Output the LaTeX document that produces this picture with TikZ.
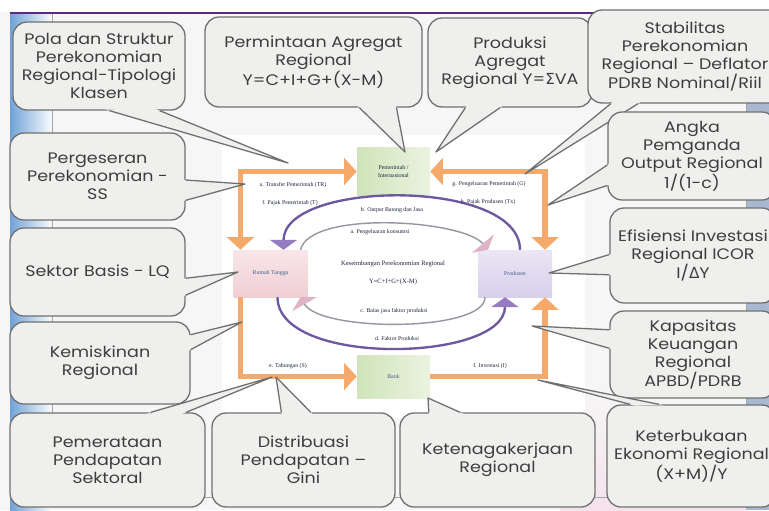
\documentclass[tikz,border=0pt]{standalone}
\usepackage{fontspec}
\newfontfamily\callfont[FakeStretch=1.15]{Poppins}
\newfontfamily\grkfont{DejaVu Sans}
\newfontfamily\lblfont{Liberation Serif}
\usetikzlibrary{arrows.meta,calc}

\definecolor{slidebg}{RGB}{246,246,246}
\definecolor{callfill}{RGB}{239,239,237}
\definecolor{callline}{RGB}{112,112,112}
\definecolor{calltext}{RGB}{62,62,62}
\definecolor{flowor}{RGB}{245,170,108}
\definecolor{flowpu}{RGB}{110,88,160}
\definecolor{headpu}{RGB}{150,124,192}
\definecolor{flowgr}{RGB}{150,150,160}
\definecolor{headpk}{RGB}{224,178,198}
\definecolor{rtfill}{RGB}{240,206,212}
\definecolor{prfill}{RGB}{216,206,234}
\definecolor{pmfill}{RGB}{208,228,186}
\definecolor{boxtext}{RGB}{70,94,140}
\definecolor{lbltext}{RGB}{28,36,64}
\definecolor{topline}{RGB}{88,42,128}
\definecolor{sideblue}{RGB}{112,162,216}
\definecolor{sidegray}{RGB}{168,184,208}
\definecolor{pinkbg}{RGB}{244,226,236}

\tikzset{
  callout/.style={draw=callline, fill=callfill, line width=1.1pt, rounded corners=12pt,
    font=\callfont\fontsize{13}{15.5}\selectfont, text=calltext, align=center, inner sep=2pt},
  tail/.style={draw=callline, line width=1.1pt, line join=round},
  flowbox/.style={minimum width=2.22cm, minimum height=1.41cm, inner sep=1pt,
    font=\lblfont\fontsize{5}{6}\selectfont, text=boxtext, align=center},
  flowlbl/.style={font=\lblfont\fontsize{5}{6}\selectfont, text=lbltext, inner sep=1pt},
  oflow/.style={draw=flowor, line width=5pt},
  pflow/.style={draw=flowpu, line width=2pt},
  gflow/.style={draw=flowgr, line width=1.2pt},
  ohead/.tip={Triangle[width=0.8cm, length=0.38cm, color=flowor]},
  phead/.tip={Triangle[width=0.82cm, length=0.3cm, color=headpu]},
  khead/.tip={Triangle[width=0.85cm, length=0.24cm, color=headpk]}
}

% tail of a callout: edge corner, edge corner, two fractions, tip
\newcommand{\calltail}[5]{%
  \coordinate (ta) at ($(#1)!#3!(#2)$);
  \coordinate (tb) at ($(#1)!#4!(#2)$);
  \fill[callfill] ($(ta)!-4pt!(#5)$) -- (#5) -- ($(tb)!-4pt!(#5)$) -- cycle;
  \draw[tail] (ta) -- (#5) -- (tb);}

\begin{document}
\begin{tikzpicture}[x=0.03cm,y=-0.03cm]
\useasboundingbox (0,0) rectangle (769,510);
% slide background
\fill[slidebg] (0,0) rectangle (769,510);
\fill[white] (0,0) rectangle (769,12);
\shade[left color=sideblue, right color=sideblue!8] (10,14) rectangle (50,510);
\fill[sidegray] (746,14) rectangle (769,510);
\shade[top color=slidebg, bottom color=pinkbg] (560,390) rectangle (746,510);
\draw[topline, line width=2.2pt] (10,13) -- (769,13);
\draw[gray!70, line width=0.6pt] (52,14) -- (52,497) -- (746,497) -- (746,14);
\fill[white] (222,135) rectangle (585,418);

% circular flow
\node[flowbox, top color=rtfill!50, bottom color=rtfill] (rumah) at (270.5,273.5) {Rumah Tangga};
\node[flowbox, top color=prfill!50, bottom color=prfill] (produsen) at (515,273.5) {Produsen};
\node[flowbox, minimum width=2.19cm, left color=pmfill, right color=pmfill!45, text=lbltext] (pemerintah) at (393.5,171.5) {Pemerintah /\\Internasional};
\node[flowbox, minimum width=2.19cm, minimum height=1.29cm, left color=pmfill, right color=pmfill!45] (bank) at (393.5,376.5) {Bank};
\node[font=\lblfont\fontsize{5.6}{7}\selectfont, text=lbltext, align=center] (seimbang) at (393,273) {Keseimbangan Perekonomian Regional\\[8pt]Y=C+I+G+(X-M)};

\draw[oflow, ohead-ohead] ($(rumah.north)+(-30,0)$) |- (pemerintah.west);
\draw[oflow, ohead-ohead] ($(produsen.north)+(30,0)$) |- (pemerintah.east);
\draw[oflow, -ohead] ($(rumah.south)+(-30,0)$) |- (bank.west);
\draw[oflow, -ohead] (bank.east) -| ($(produsen.south)+(30,0)$);

\draw[pflow, -phead] ($(produsen.north)+(5,0)$) .. controls +(0,-72) and +(0,-70) .. ($(rumah.north)+(13,0)$);
\draw[pflow, -phead] ($(rumah.south)+(7,0)$) .. controls +(0,70) and +(0,65) .. ($(produsen.south)+(-10,0)$);
\draw[gflow, -khead] ($(rumah.north)+(30,0)$) .. controls +(10,-40) and +(-25,-30) .. ($(produsen.north)+(-27,0)$);
\draw[gflow, -khead] ($(produsen.south)+(-30,0)$) .. controls +(0,35) and +(20,35) .. ($(rumah.south)+(30,0)$);

\node[flowlbl] (transfer) at (293,185) {a. Transfer Pemerintah (TR)};
\node[flowlbl] (pajakrt) at (290,203) {f. Pajak Pemerintah (T)};
\node[flowlbl] (belanja) at (489,184) {g. Pengeluaran Pemerintah (G)};
\node[flowlbl] (pajakpr) at (488,202) {h. Pajak Produsen (Tx)};
\node[flowlbl] (output) at (392,210) {b. Output Barang dan Jasa};
\node[flowlbl] (konsumsi) at (380,232) {a. Pengeluaran konsumsi};
\node[flowlbl] (balas) at (394,311) {c. Balas jasa faktor produksi};
\node[flowlbl] (faktor) at (397,339) {d. Faktor Produksi};
\node[flowlbl] (tabungan) at (288,366) {e. Tabungan (S)};
\node[flowlbl] (investasi) at (490,366) {f. Investasi (I)};

% callouts
\coordinate (polatip) at (288,163);
\coordinate (permtip) at (405,152);
\coordinate (prodtip) at (436,152);
\coordinate (stabtip) at (525,174);
\coordinate (angkatip) at (548,205);
\coordinate (efistip) at (549,273);
\coordinate (kapatip) at (532,326);
\coordinate (ketetip) at (538,380);
\coordinate (kerjatip) at (428,398);
\coordinate (disttip) at (276,377);
\coordinate (pemrtip) at (272,377);
\coordinate (kemistip) at (242,322);
\coordinate (sektortip) at (238,272);
\coordinate (pergtip) at (245,184);

\node[callout, minimum width=5.16cm, minimum height=2.64cm] (pola) at (99,66) {Pola dan Struktur\\Perekonomian\\Regional-Tipologi\\Klasen};
\calltail{pola.south west}{pola.south east}{0.56}{0.85}{polatip}
\node[callout, minimum width=6.51cm, minimum height=2.7cm] (perm) at (313.5,62) {Permintaan Agregat\\Regional\\Y=C+I+G+(X-M)};
\calltail{perm.south west}{perm.south east}{0.71}{0.88}{permtip}
\node[callout, minimum width=4.92cm, minimum height=2.67cm] (prod) at (510,62.5) {Produksi\\Agregat\\Regional Y={\grkfont Σ}VA};
\calltail{prod.south west}{prod.south east}{0.23}{0.44}{prodtip}
\node[callout, minimum width=5.82cm, minimum height=2.79cm] (stab) at (685,56.5) {Stabilitas\\Perekonomian\\Regional – Deflator\\PDRB Nominal/Riil};
\calltail{stab.south west}{stab.south east}{0.12}{0.26}{stabtip}
\node[callout, minimum width=5.04cm, minimum height=2.64cm] (angka) at (692,156) {Angka\\Pemganda\\Output Regional\\1/(1-c)};
\calltail{angka.north west}{angka.south west}{0.6}{0.83}{angkatip}
\node[callout, minimum width=4.98cm, minimum height=2.85cm] (efis) at (693,255.5) {Efisiensi Investasi\\Regional ICOR\\I/{\grkfont Δ}Y};
\calltail{efis.north west}{efis.south west}{0.49}{0.7}{efistip}
\node[callout, minimum width=4.98cm, minimum height=2.61cm] (kapa) at (693,354.5) {Kapasitas\\Keuangan\\Regional\\APBD/PDRB};
\calltail{kapa.north west}{kapa.south west}{0.22}{0.43}{kapatip}
\node[callout, minimum width=5.07cm, minimum height=3.06cm] (kete) at (691.5,456) {Keterbukaan\\Ekonomi Regional\\(X+M)/Y};
\calltail{kete.north west}{kete.north east}{0.14}{0.31}{ketetip}
\node[callout, minimum width=5.85cm, minimum height=2.82cm] (kerja) at (497.5,460) {Ketenagakerjaan\\Regional};
\calltail{kerja.north west}{kerja.north east}{0.15}{0.31}{kerjatip}
\node[callout, minimum width=5.49cm, minimum height=2.82cm] (dist) at (303.5,460) {Distribuasi\\Pendapatan –\\Gini};
\calltail{dist.north west}{dist.north east}{0.38}{0.54}{disttip}
\node[callout, minimum width=5.85cm, minimum height=2.82cm] (pemr) at (107.5,460) {Pemerataan\\Pendapatan\\Sektoral};
\calltail{pemr.north west}{pemr.north east}{0.72}{0.9}{pemrtip}
\node[callout, minimum width=5.4cm, minimum height=2.46cm] (kemis) at (100,363) {Kemiskinan\\Regional};
\calltail{kemis.north east}{kemis.south east}{0.16}{0.34}{kemistip}
\node[callout, minimum width=5.25cm, minimum height=2.64cm] (sektor) at (97.5,272) {Sektor Basis - LQ};
\calltail{sektor.north east}{sektor.south east}{0.57}{0.76}{sektortip}
\node[callout, minimum width=5.25cm, minimum height=2.61cm] (perg) at (97.5,176.5) {Pergeseran\\Perekonomian -\\SS};
\calltail{perg.north east}{perg.south east}{0.54}{0.77}{pergtip}
\end{tikzpicture}
\end{document}
